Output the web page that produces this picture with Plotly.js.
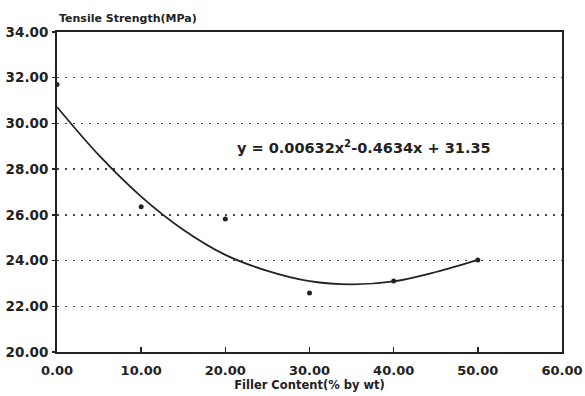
<!DOCTYPE html>
<html>
<head>
<meta charset="utf-8">
<script src="https://cdn.plot.ly/plotly-3.0.1.min.js"></script>
<style>html,body{margin:0;padding:0;background:#fff;}#chart{width:585px;height:396px;}</style>
</head>
<body>
<div id="chart"></div>
<script>
// Measured data points
const fillerContent = [0, 10, 20, 30, 40, 50];
const tensileStrength = [31.7, 26.35, 25.82, 22.58, 23.11, 24.03];
// Trend curve
const trendX = [0, 5, 10, 15, 20, 25, 30, 35, 40, 45, 50];
const trendY = [30.72, 28.6, 26.8, 25.35, 24.25, 23.55, 23.1, 22.96, 23.09, 23.5, 24.03];
const xTicks = [0, 10, 20, 30, 40, 50, 60];
const yTicks = [20, 22, 24, 26, 28, 30, 32, 34];
const equationText = 'y = 0.00632x<sup>2</sup>-0.4634x + 31.35';

const FONT = 'DejaVu Sans, Arial, sans-serif';
const INK = '#222';

const traces = [
  {
    x: trendX, y: trendY, type: 'scatter', mode: 'lines',
    line: {color: INK, width: 1.8, shape: 'spline', smoothing: 1},
    hoverinfo: 'skip', showlegend: false
  },
  {
    x: fillerContent, y: tensileStrength, type: 'scatter', mode: 'markers',
    marker: {color: INK, size: 5},
    showlegend: false
  }
];

const layout = {
  width: 585, height: 396,
  margin: {l: 57, r: 23, t: 32, b: 44},
  paper_bgcolor: '#fff', plot_bgcolor: '#fff',
  font: {family: FONT, color: INK, size: 13, weight: 'bold'},
  showlegend: false,
  xaxis: {
    range: [0, 60], tickvals: xTicks, tickformat: '.2f',
    showgrid: false, zeroline: false,
    showline: true, mirror: true, linecolor: INK, linewidth: 2,
    ticks: 'inside', ticklen: 5, tickwidth: 1.5, tickcolor: INK,
    ticklabelstandoff: 5,
    tickfont: {family: FONT, size: 13, color: INK, weight: 'bold'},
    title: {text: 'Filler Content(% by wt)', standoff: 3,
            font: {family: FONT, size: 11.5, color: INK, weight: 'bold'}}
  },
  yaxis: {
    range: [20, 34], tickvals: yTicks, tickformat: '.2f',
    showgrid: true, gridcolor: '#444', gridwidth: 1.5, griddash: '2px,6px',
    zeroline: false,
    showline: true, mirror: true, linecolor: INK, linewidth: 2,
    ticks: 'outside', ticklen: 3, tickwidth: 1.5, tickcolor: INK,
    ticklabelstandoff: 1,
    tickfont: {family: FONT, size: 13.5, color: INK, weight: 'bold'}
  },
  annotations: [
    {
      text: 'Tensile Strength(MPa)', xref: 'paper', yref: 'paper',
      x: 0, y: 1, xanchor: 'left', yanchor: 'bottom', yshift: 5, showarrow: false,
      font: {family: FONT, size: 11, color: INK, weight: 'bold'}
    },
    {
      text: equationText, xref: 'x', yref: 'y', x: 36.5, y: 28.97,
      xanchor: 'center', yanchor: 'middle', showarrow: false,
      font: {family: FONT, size: 14.5, color: INK, weight: 'bold'}
    }
  ]
};

Plotly.newPlot('chart', traces, layout, {displayModeBar: false, staticPlot: true});
</script>
</body>
</html>
